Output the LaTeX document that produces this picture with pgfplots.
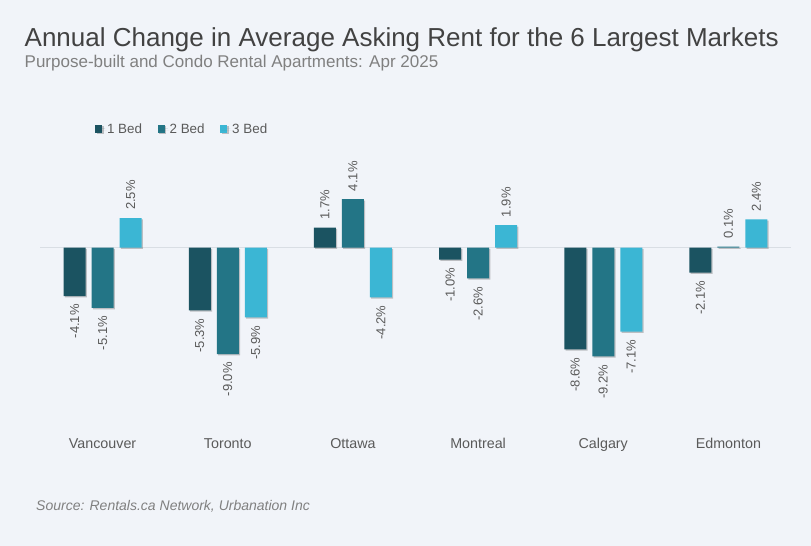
\documentclass[border=0pt]{standalone}
\usepackage{fontspec}
\setmainfont{Liberation Sans}
\usepackage{pgfplots}
\pgfplotsset{compat=1.18}
\usetikzlibrary{shadows}

\definecolor{bg}{HTML}{F1F4F9}
\definecolor{bedone}{HTML}{1B5361}
\definecolor{bedtwo}{HTML}{237586}
\definecolor{bedthree}{HTML}{3BB6D4}
\definecolor{titlegray}{HTML}{424242}
\definecolor{subgray}{HTML}{808080}
\definecolor{labgray}{HTML}{5A5A5A}
\definecolor{zerogray}{HTML}{D9DEE4}

\tikzset{bshadow/.style={drop shadow={shadow xshift=1.3pt,shadow yshift=-1.3pt,opacity=0.22,fill=black}}}

\begin{document}
\begin{tikzpicture}
\fill[bg] (0pt,0pt) rectangle (811pt,546pt);
\node[anchor=base west, inner sep=0pt, text=titlegray, font=\fontsize{26}{30}\selectfont]
  at (24.5pt,499pt) {Annual Change in Average Asking Rent for the 6 Largest Markets};
\node[anchor=base west, inner sep=0pt, text=subgray, font=\fontsize{17}{20}\selectfont]
  at (24.5pt,478pt) {Purpose-built and Condo Rental Apartments: Apr 2025};
\node[anchor=base west, inner sep=0pt, text=subgray, font=\fontsize{14}{16}\selectfont\itshape]
  at (36pt,35pt) {Source: Rentals.ca Network, Urbanation Inc};

\begin{axis}[
  at={(40pt,115.1pt)}, anchor=south west,
  scale only axis, width=751pt, height=242.3pt,
  ybar=6pt, bar width=22pt,
  xmin=-0.5, xmax=5.5, ymin=-15.5, ymax=5,
  xtick={0,...,5},
  xticklabels={Vancouver,Toronto,Ottawa,Montreal,Calgary,Edmonton},
  ytick={0}, yticklabels={},
  ymajorgrids, grid style={zerogray, line width=1.2pt},
  axis line style={draw=none},
  major tick length=0pt,
  xticklabel style={anchor=base, yshift=-18.1pt, font=\fontsize{14.3}{16}\selectfont, text=labgray},
  clip=false,
  nodes near coords={\rotatebox{90}{\pgfmathprintnumber[fixed,fixed zerofill,precision=1,assume math mode=true]{\pgfplotspointmeta}\%}},
  every node near coord/.append style={font=\fontsize{13}{13}\selectfont, text=labgray, inner xsep=0pt, inner ysep=8pt},
  legend columns=3,
  legend image code/.code={\fill[#1] (0pt,-4pt) rectangle (7pt,4pt); \path (0pt,0pt) -- (10pt,0pt);},
  legend style={at={(axis description cs:0,1)}, anchor=west, xshift=55pt, yshift=59.6pt,
    draw=none, fill=none, font=\fontsize{13.4}{15}\selectfont, text=labgray,
    inner sep=0pt, nodes={inner xsep=1.8pt, inner ysep=1pt},
    /tikz/every even column/.append style={column sep=14pt}},
]
% 1 Bed
\addplot[fill=bedone, draw=none, bshadow] coordinates {
  (0,-4.1) (1,-5.3) (2,1.7) (3,-1.0) (4,-8.6) (5,-2.1)};
% 2 Bed
\addplot[fill=bedtwo, draw=none, bshadow] coordinates {
  (0,-5.1) (1,-9.0) (2,4.1) (3,-2.6) (4,-9.2) (5,0.1)};
% 3 Bed
\addplot[fill=bedthree, draw=none, bshadow] coordinates {
  (0,2.5) (1,-5.9) (2,-4.2) (3,1.9) (4,-7.1) (5,2.4)};
\legend{1 Bed, 2 Bed, 3 Bed}
\end{axis}
\end{tikzpicture}
\end{document}
